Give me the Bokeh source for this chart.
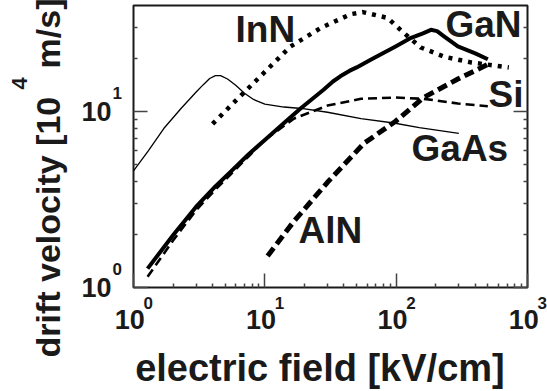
import math
from bokeh.plotting import figure
from bokeh.models import Label, FixedTicker, LogAxis, Title, ColumnDataSource
from bokeh.core.properties import value
from bokeh.embed import file_html
from bokeh.resources import INLINE

# ---- data (electric field in kV/cm, drift velocity in 10^4 m/s) ----
gaas_E = [1, 1.3, 1.7, 2.3, 3, 3.4, 3.8, 4.2, 4.6, 5.2, 6.0, 7.0, 8.2, 10, 14, 19, 30, 54, 96, 150, 300]
gaas_v = [4.6, 6.0, 8.0, 10.4, 12.9, 14.2, 15.4, 16.0, 16.0, 15.3, 14.1, 12.7, 11.7, 11.0, 10.6, 10.4, 9.9, 9.1, 8.6, 8.1, 7.5]

gan_E = [1.28, 2, 3, 4.2, 5.5, 7.5, 9.8, 14, 18.7, 28, 33, 37.8, 44, 50, 65, 99, 130, 160, 184, 205, 230, 295, 400, 499]
gan_v = [1.28, 1.98, 2.88, 3.75, 4.55, 5.7, 6.8, 8.6, 10.4, 13.3, 14.8, 15.9, 17.0, 17.8, 19.8, 23.4, 26.2, 27.8, 29.1, 28.6, 26.8, 23.4, 21.4, 19.8]

si_E = [1.28, 2, 3, 4.2, 5.5, 7.5, 10, 16.6, 30, 54, 99, 162, 295, 499]
si_v = [1.15, 1.85, 2.75, 3.6, 4.4, 5.55, 6.9, 9.1, 10.8, 11.8, 12.0, 11.8, 11.1, 10.7]

inn_E = [4.0, 6.2, 9.3, 15.7, 26.6, 45, 55.6, 86, 114, 154, 231, 370, 721]
inn_v = [8.5, 11.8, 15.9, 23.4, 29.8, 35.7, 36.7, 34.0, 28.0, 23.1, 20.5, 19.0, 17.8]

aln_E = [10.5, 16.6, 30, 57, 99, 162, 295, 499]
aln_v = [1.51, 2.37, 3.96, 6.6, 8.8, 12.0, 15.3, 18.5]

x_major = [1, 10, 100, 1000]
x_exponents = ["0", "1", "2", "3"]
y_major = [1, 10]
y_exponents = ["0", "1"]
tick_base = "10"

curve_names = ["InN", "GaN", "Si", "GaAs", "AlN"]
# label anchors (left end of text, vertical middle) in data coordinates
label_E = [5.98, 237.5, 505, 130.9, 18.05]
label_v = [29.3, 31.3, 12.55, 6.19, 2.10]

x_title = "electric field [kV/cm]\u00a0\u00a0"
y_title = "drift velocity [10\u00a0\u00a0\u00a0m/s]"
y_title_exp = "4"

FONT = "Liberation Sans"
INK = "#1a1a1a"

# ---- figure ----
W, H = 547, 391
p = figure(width=W, height=H, x_axis_type="log", y_axis_type="log",
           x_range=(1, 1000), y_range=(1, 40),
           output_backend="svg", toolbar_location=None,
           min_border_left=133, min_border_right=20,
           min_border_top=5, min_border_bottom=99)
p.xgrid.visible = False
p.ygrid.visible = False
p.outline_line_color = INK
p.outline_line_width = 2
p.background_fill_color = "white"
p.border_fill_color = "white"

x_minor = [m * d for d in (1, 10, 100) for m in range(2, 10)]
y_minor = [m for m in range(2, 10)] + [20, 30]

def style_axis(ax, major, minor, labels=None):
    ax.ticker = FixedTicker(ticks=major, minor_ticks=minor)
    ax.axis_line_color = None
    ax.major_tick_in = 14
    ax.major_tick_out = 0
    ax.minor_tick_in = 4
    ax.minor_tick_out = 0
    ax.major_tick_line_color = "#444444"
    ax.minor_tick_line_color = "#444444"
    ax.major_tick_line_width = 1.5
    ax.minor_tick_line_width = 1.5
    if labels is None:
        ax.major_label_text_font_size = "0px"
        ax.major_label_overrides = {t: "" for t in major}
    else:
        ax.major_label_overrides = {t: s for t, s in zip(major, labels)}
        ax.major_label_text_font = FONT
        ax.major_label_text_font_style = "bold"
        ax.major_label_text_font_size = "27px"
        ax.major_label_text_color = INK

xa = p.xaxis[0]
style_axis(xa, x_major, x_minor, [tick_base + "\u00a0"] * len(x_major))
xa.major_label_standoff = 17
xa.axis_label = x_title
xa.axis_label_text_font = FONT
xa.axis_label_text_font_style = "bold"
xa.axis_label_text_font_size = "38px"
xa.axis_label_text_color = INK
xa.axis_label_standoff = 9

ya = p.yaxis[0]
style_axis(ya, y_major, y_minor, [tick_base] * len(y_major))
ya.major_label_standoff = 22

rax = LogAxis()
style_axis(rax, y_major, y_minor)
p.add_layout(rax, "right")

# y title in pieces (spacer, main text, raised exponent)
spacer = Title(text="\u00a0", standoff=8, text_font=FONT, text_font_size="1px")
p.add_layout(spacer, "left")
t_main = Title(text=y_title, align="left", offset=-70, standoff=1,
               text_font=FONT, text_font_style="bold", text_font_size="34px",
               text_color=INK)
p.add_layout(t_main, "left")
t_exp = Title(text=y_title_exp, align="left", offset=198, standoff=0,
              text_font=FONT, text_font_style="bold", text_font_size="22px",
              text_color=INK)
p.add_layout(t_exp, "left")

# ---- curves ----
p.line(gaas_E, gaas_v, line_color="black", line_width=1.3, line_join="round")
p.line(gan_E, gan_v, line_color="black", line_width=4, line_join="round")
p.line(si_E, si_v, line_color="black", line_width=2.6, line_dash="9 5")
p.line(aln_E, aln_v, line_color="black", line_width=5, line_dash="10 5")
p.line(inn_E, inn_v, line_color="black", line_width=4.5, line_dash="4 6")

for name, lx, ly in zip(curve_names, label_E, label_v):
    p.add_layout(Label(x=lx, y=ly, text=name, text_font=FONT,
                       text_font_style="bold", text_font_size="37px",
                       text_align="left", text_baseline="middle",
                       text_color=INK))

# ---- raised exponents of the tick labels (drawn outside the frame) ----
X_EXP_V = 0.813          # vertical middle of x exponents, below the frame
Y_EXP_E = 0.692          # left edge of y exponents, left of the frame
Y_EXP_RAISE = 1.276      # exponents sit above their tick
xs = ColumnDataSource(dict(x=x_major, y=[X_EXP_V] * len(x_major), t=x_exponents))
p.text(x="x", y="y", text="t", source=xs, x_offset=10,
       text_font=value(FONT), text_font_style="bold",
       text_font_size=value("17px"), text_color=INK,
       text_align="left", text_baseline="middle", level="overlay")
ys = ColumnDataSource(dict(x=[Y_EXP_E] * len(y_major),
                           y=[t * Y_EXP_RAISE for t in y_major], t=y_exponents))
p.text(x="x", y="y", text="t", source=ys,
       text_font=value(FONT), text_font_style="bold",
       text_font_size=value("17px"), text_color=INK,
       text_align="left", text_baseline="middle", level="overlay")

open("out.html", "w").write(file_html(p, INLINE))
